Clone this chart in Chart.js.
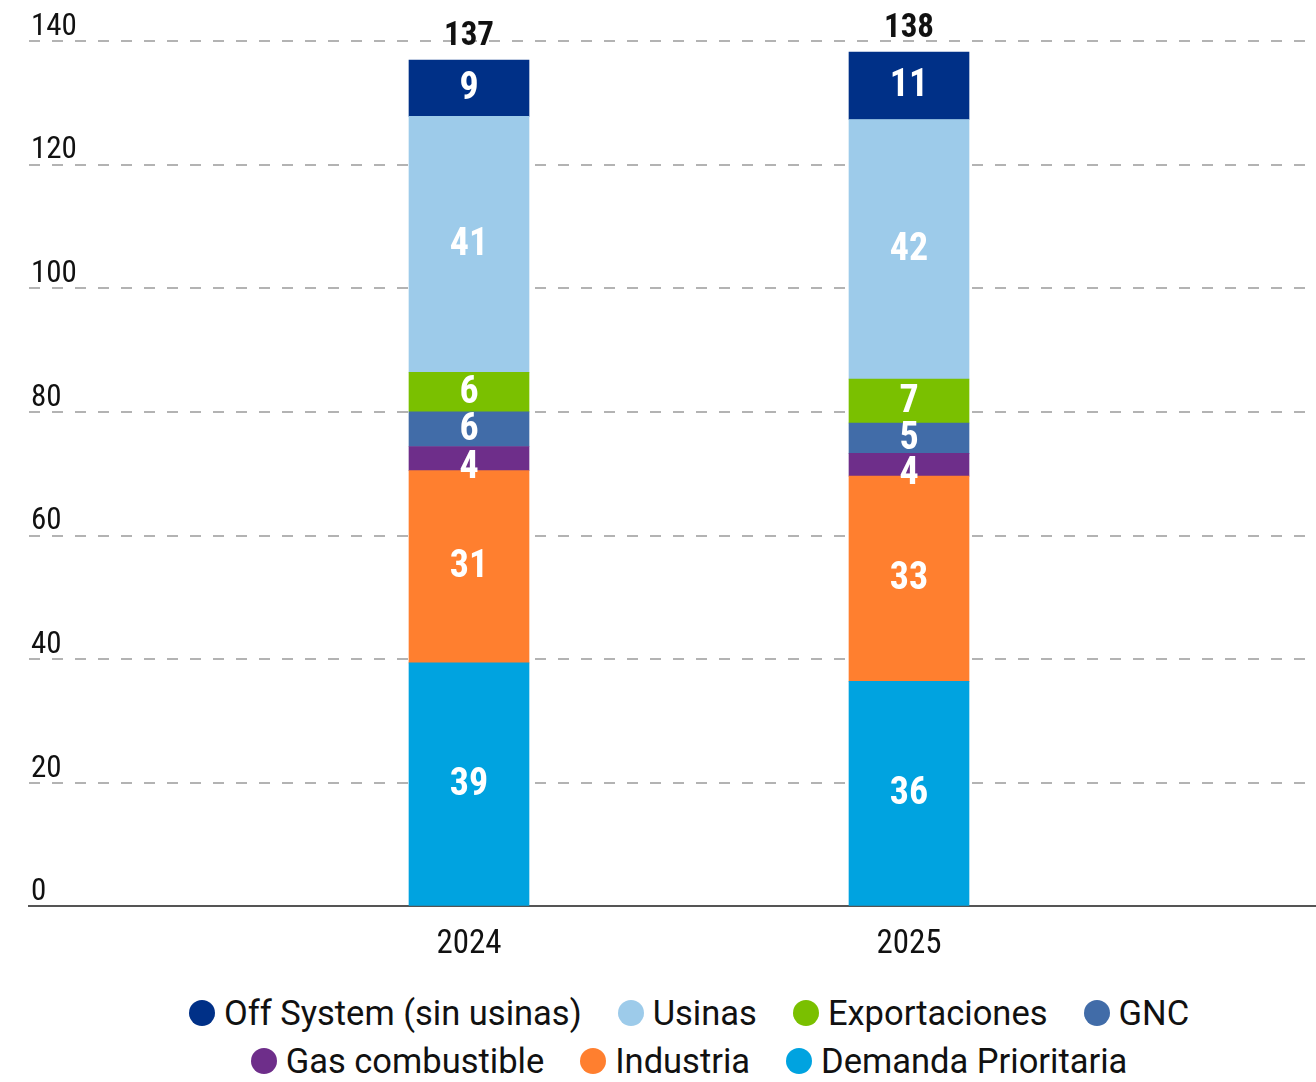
<!DOCTYPE html>
<html lang="es">
<head>
<meta charset="utf-8">
<title>Demanda de gas por segmento</title>
<script src="https://cdn.jsdelivr.net/npm/chart.js@4.4.1/dist/chart.umd.min.js"></script>
<style>
  html, body { margin: 0; padding: 0; background: #fff; overflow: hidden; }
  #wrap { position: relative; width: 1316px; height: 1082px; overflow: hidden; }
  #chart-box { position: absolute; left: 0; top: 0; width: 1368px; height: 985px; }
  #legend {
    position: absolute; left: 164px; top: 989px; width: 1050px;
    display: flex; flex-wrap: wrap; justify-content: center;
    font-family: Roboto, "Noto Sans", sans-serif; font-size: 34.5px; line-height: 48px; color: #111;
  }
  .item { display: flex; align-items: center; margin: 0 18px; white-space: nowrap; }
  .dot { width: 26px; height: 26px; border-radius: 50%; margin-right: 9px; flex: none; }
</style>
</head>
<body>
<div id="wrap">
  <div id="chart-box"><canvas id="chart"></canvas></div>
  <div id="legend"></div>
</div>
<script>
const CONDENSED = '"Roboto Condensed", "Liberation Sans Narrow", "DejaVu Sans Condensed", sans-serif';

// años y series (bcm), de abajo hacia arriba en la pila
const years = ["2024", "2025"];
const demandaPrioritaria = [39.4, 36.4];
const industria = [31.1, 33.2];
const gasCombustible = [3.9, 3.7];
const gnc = [5.6, 4.9];
const exportaciones = [6.4, 7.1];
const usinas = [41.4, 42.0];
const offSystem = [9.1, 10.9];

const yMax = 140;
const yStep = 20;

const seriesNames = ["Demanda Prioritaria", "Industria", "Gas combustible", "GNC", "Exportaciones", "Usinas", "Off System (sin usinas)"];
const seriesValues = [demandaPrioritaria, industria, gasCombustible, gnc, exportaciones, usinas, offSystem];
const seriesColors = ["#00a3e0", "#ff7f2f", "#6e2e8a", "#416ca8", "#7ac000", "#9dcbea", "#003087"];
const legendOrder = ["Off System (sin usinas)", "Usinas", "Exportaciones", "GNC", "Gas combustible", "Industria", "Demanda Prioritaria"];

// empty slots at both ends keep the two bars away from the edges
const labels = ["", ...years, ""];
const pad = (arr) => [null, ...arr, null];

const datasets = seriesNames.map((name, i) => ({
  label: name,
  data: pad(seriesValues[i]),
  backgroundColor: seriesColors[i],
  barThickness: 120,
  borderWidth: 0,
  labelNudge: name === "Gas combustible" ? 9 : 0,
}));

// valores dentro de cada tramo y total arriba de cada barra
const barLabels = {
  id: "barLabels",
  afterDatasetsDraw(chart) {
    const { ctx } = chart;
    ctx.save();
    ctx.textAlign = "center";
    ctx.textBaseline = "middle";
    ctx.fillStyle = "#ffffff";
    ctx.font = `bold 38px ${CONDENSED}`;
    chart.data.datasets.forEach((ds, i) => {
      chart.getDatasetMeta(i).data.forEach((bar, j) => {
        const v = ds.data[j];
        if (v == null) return;
        const mid = (bar.y + bar.base) / 2 + ds.labelNudge + 1;
        ctx.fillText(Math.round(v), bar.x, mid);
      });
    });

    ctx.fillStyle = "#111111";
    ctx.font = `bold 33px ${CONDENSED}`;
    ctx.textBaseline = "alphabetic";
    const last = chart.data.datasets.length - 1;
    chart.getDatasetMeta(last).data.forEach((bar, j) => {
      if (chart.data.datasets[last].data[j] == null) return;
      const total = chart.data.datasets.reduce((s, ds) => s + (ds.data[j] || 0), 0);
      ctx.fillText(Math.round(total), bar.x, bar.y - 15);
    });
    ctx.restore();
  },
};

new Chart(document.getElementById("chart").getContext("2d"), {
  type: "bar",
  data: { labels, datasets },
  options: {
    responsive: true,
    maintainAspectRatio: false,
    animation: false,
    layout: { padding: { top: 41, left: 25, right: 0, bottom: 1 } },
    plugins: {
      legend: { display: false },
      tooltip: { enabled: false },
    },
    scales: {
      x: {
        stacked: true,
        offset: false,
        grid: { display: false, drawTicks: false },
        border: { display: true, color: "#555555", width: 2 },
        ticks: {
          color: "#111111",
          font: { size: 33, family: CONDENSED },
          padding: 19,
          maxRotation: 0,
          autoSkip: false,
        },
      },
      y: {
        stacked: true,
        min: 0,
        max: yMax,
        grid: {
          color: (c) => (c.tick && c.tick.value === 0 ? "rgba(0,0,0,0)" : "#b3b3b3"),
          lineWidth: 2,
          drawTicks: false,
        },
        border: { display: false, dash: [11, 12] },
        ticks: {
          stepSize: yStep,
          mirror: true,
          padding: 2,
          labelOffset: -14,
          color: "#111111",
          font: { size: 31, family: CONDENSED },
        },
      },
    },
  },
  plugins: [barLabels],
});

// leyenda
const legend = document.getElementById("legend");
legendOrder.forEach((name) => {
  const i = seriesNames.indexOf(name);
  const item = document.createElement("span");
  item.className = "item";
  const dot = document.createElement("span");
  dot.className = "dot";
  dot.style.background = seriesColors[i];
  item.appendChild(dot);
  item.appendChild(document.createTextNode(name));
  legend.appendChild(item);
});
</script>
</body>
</html>
